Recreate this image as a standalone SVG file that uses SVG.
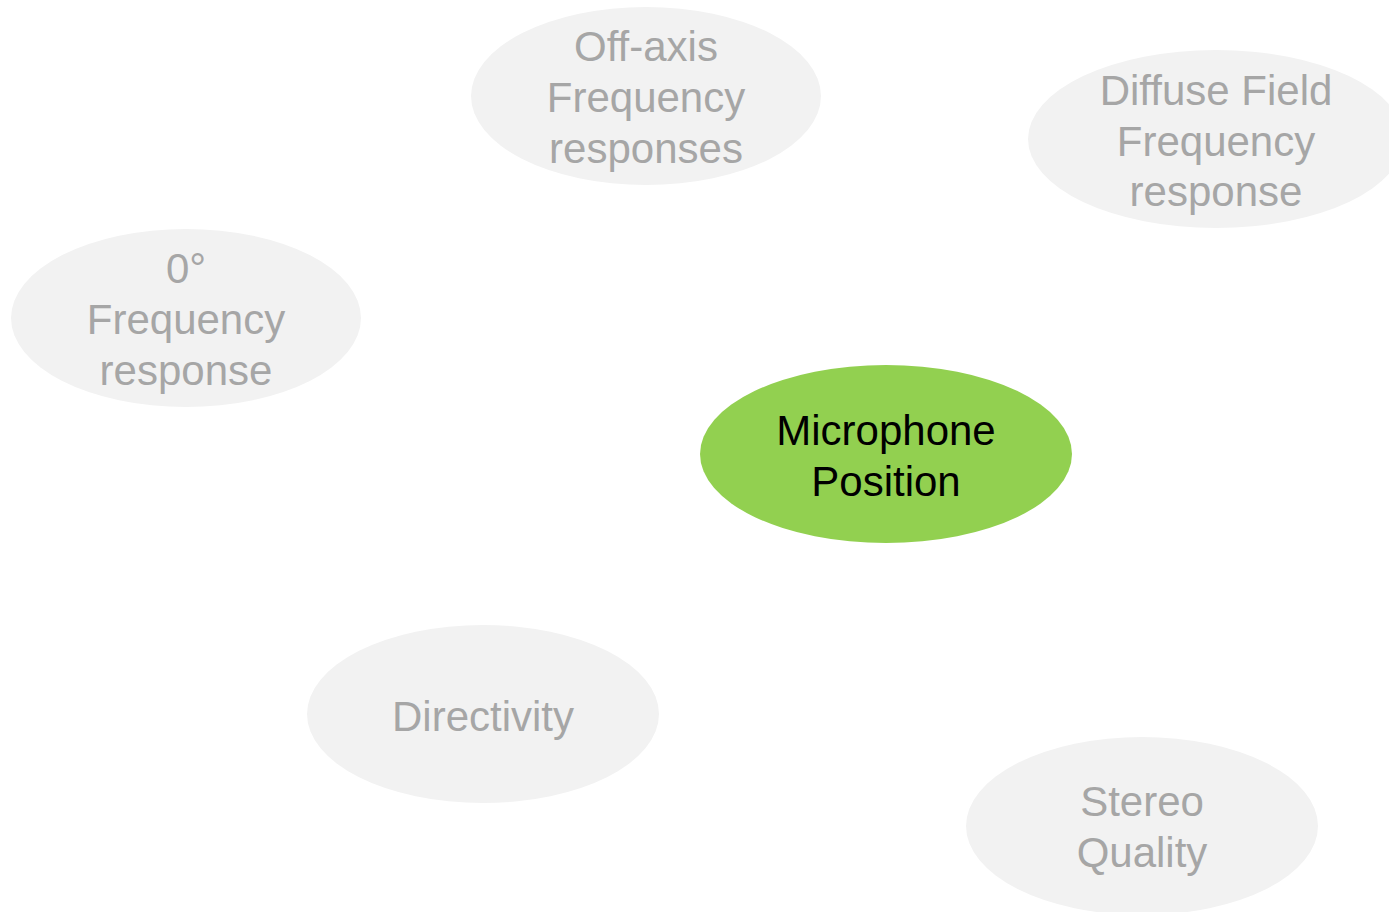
<svg xmlns="http://www.w3.org/2000/svg" width="1389" height="912" viewBox="0 0 1389 912">
<style>
.n{fill:#f2f2f2}
.t{font-family:"Liberation Sans",Arial,sans-serif;font-size:42px;fill:#a6a6a6;text-anchor:middle}
.c{fill:#92d050}
.ct{font-family:"Liberation Sans",Arial,sans-serif;font-size:42px;fill:#000;text-anchor:middle}
</style>
<rect width="1389" height="912" fill="#fff"/>
<g id="connectors"></g>
<g id="offaxis">
<ellipse class="n" cx="646" cy="96" rx="175" ry="89"/>
<text class="t" x="646" y="61">Off-axis</text>
<text class="t" x="646" y="112">Frequency</text>
<text class="t" x="646" y="163">responses</text>
</g>
<g id="diffuse">
<ellipse class="n" cx="1216" cy="139" rx="188" ry="89"/>
<text class="t" x="1216" y="105">Diffuse Field</text>
<text class="t" x="1216" y="156">Frequency</text>
<text class="t" x="1216" y="206">response</text>
</g>
<g id="zero">
<ellipse class="n" cx="186" cy="318" rx="175" ry="89"/>
<text class="t" x="186" y="283">0°</text>
<text class="t" x="186" y="334">Frequency</text>
<text class="t" x="186" y="385">response</text>
</g>
<g id="microphone">
<ellipse class="c" cx="886" cy="454" rx="186" ry="89"/>
<text class="ct" x="886" y="445">Microphone</text>
<text class="ct" x="886" y="496">Position</text>
</g>
<g id="directivity">
<ellipse class="n" cx="483" cy="714" rx="176" ry="89"/>
<text class="t" x="483" y="731">Directivity</text>
</g>
<g id="stereo">
<ellipse class="n" cx="1142" cy="826" rx="176" ry="89"/>
<text class="t" x="1142" y="816">Stereo</text>
<text class="t" x="1142" y="867">Quality</text>
</g>
</svg>
